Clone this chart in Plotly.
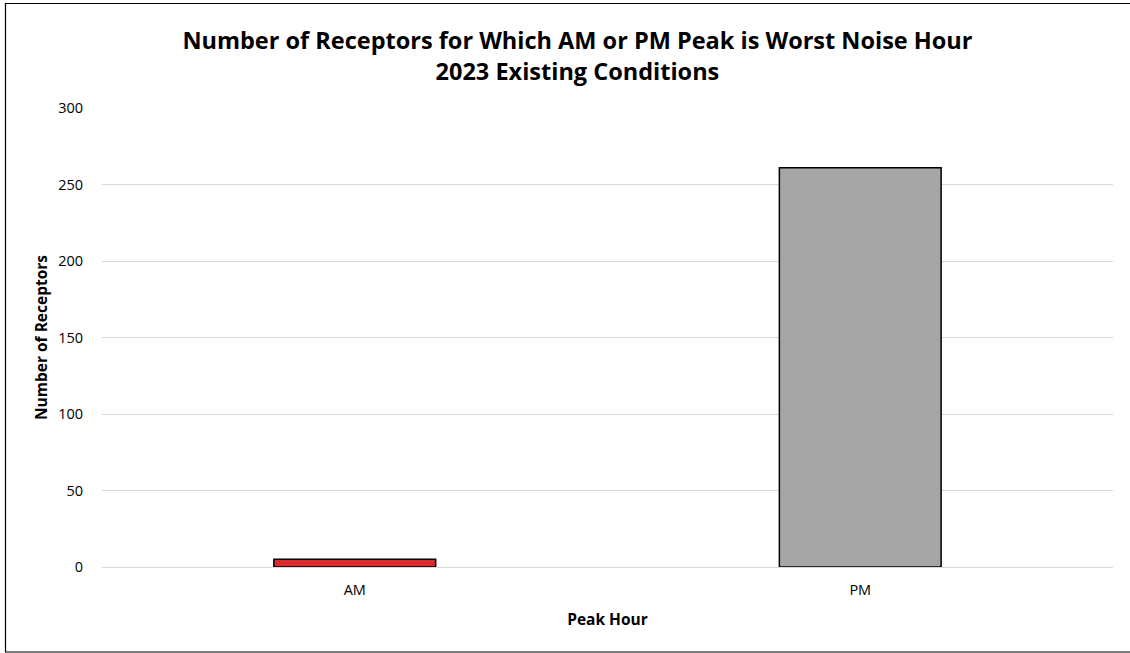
import plotly.graph_objects as go

categories = ["AM", "PM"]
values = [5, 261]
colors = ["#db2b30", "#a6a6a6"]

L, R, T, B = 102, 17, 108, 86
W, H = 1130, 653
pw, ph = W - L - R, H - T - B

def px_x(x):
    return (x - L) / pw

def px_y(y):
    return (H - B - y) / ph

fig = go.Figure(go.Bar(
    x=categories, y=values,
    marker=dict(color=colors, line=dict(color="#000000", width=1.5)),
    width=0.32,
))

font = "Open Sans, sans-serif"
fig.update_layout(
    width=W, height=H,
    margin=dict(l=L, r=R, t=T, b=B),
    paper_bgcolor="white", plot_bgcolor="white",
    font=dict(family=font, color="#000000", size=15),
    title=dict(
        text="<b>Number of Receptors for Which AM or PM Peak is Worst Noise Hour<br>2023 Existing Conditions</b>",
        x=0.511, xanchor="center", y=0.925, yanchor="top",
        font=dict(size=23.5, family=font, color="#000000"),
    ),
    showlegend=False,
    xaxis=dict(
        title=dict(text="<b>Peak Hour</b>", font=dict(size=15.5), standoff=16),
        showgrid=False, showline=False, ticks="",
        tickfont=dict(size=14.5),
        ticklabelstandoff=12,
    ),
    yaxis=dict(
        title=dict(text="<b>Number of Receptors</b>", font=dict(size=15.5), standoff=6),
        range=[0, 300], dtick=50,
        showgrid=True, gridcolor="#d9d9d9", gridwidth=1,
        zeroline=True, zerolinecolor="#d9d9d9", zerolinewidth=1,
        showline=False, ticks="", tickfont=dict(size=14.5),
        ticklabelstandoff=18,
    ),
    shapes=[dict(
        type="rect", xref="paper", yref="paper",
        x0=px_x(5.5), x1=px_x(1140), y0=px_y(652), y1=px_y(3.5),
        line=dict(color="#000000", width=1.2), fillcolor="rgba(0,0,0,0)",
        layer="above",
    )],
)

fig.write_html("out.html", config={"displayModeBar": False},
               post_script="document.body.style.margin='0';")
